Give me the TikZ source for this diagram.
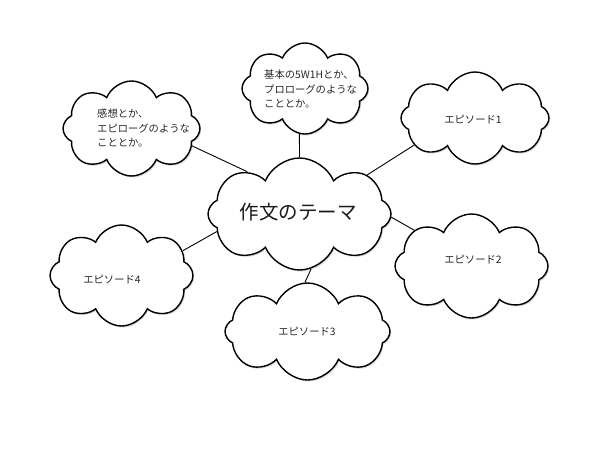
\documentclass[tikz,border=0pt]{standalone}
\usepackage{fontspec}
\setmainfont{Noto Sans CJK JP}
\usetikzlibrary{shapes.symbols,shadows}
\tikzset{
  cloudbox/.style={cloud, cloud puffs=8, cloud puff arc=135, cloud ignores aspect,
    draw=black, line width=1.4pt, fill=white, inner sep=0pt,
    drop shadow={opacity=0.3, shadow xshift=1.2pt, shadow yshift=-1.5pt}},
  smalltext/.style={font=\fontsize{10.3}{14.5}\selectfont, text=black!85, inner sep=0pt, align=left},
  link/.style={draw=black, line width=0.9pt}
}
\begin{document}
\begin{tikzpicture}[x=1pt,y=-1pt]
\useasboundingbox[fill=white] (0,0) rectangle (600,450);
\node[cloudbox, minimum width=183pt, minimum height=112pt] (c) at (299.5,214) {};
\node[cloudbox, minimum width=137pt, minimum height=95pt] (tl) at (131.5,128.5) {};
\node[cloudbox, minimum width=126pt, minimum height=91pt] (top) at (305,88.5) {};
\node[cloudbox, minimum width=148pt, minimum height=92pt] (e1) at (475,118) {};
\node[cloudbox, minimum width=153pt, minimum height=104pt] (e2) at (471.5,266) {};
\node[cloudbox, minimum width=165pt, minimum height=97pt] (e3) at (307.5,331.5) {};
\node[cloudbox, minimum width=143pt, minimum height=101pt] (e4) at (121.5,275.5) {};
\draw[link] (c.141) -- (tl.-16);
\draw[link] (c.90) -- (top.-97);
\draw[link] (c.30) -- (e1.204);
\draw[link] (c.-2) -- (e2.148);
\draw[link] (c.-78) -- (e3.93);
\draw[link] (c.192) -- (e4.22);
\node[font=\fontsize{19.5}{24}\selectfont, text=black!90, inner sep=0pt] (tc) at (298,212) {作文のテーマ};
\node[smalltext, anchor=west] (ttl) at (97,128) {感想とか、\\エピローグのような\\こととか。};
\node[smalltext, anchor=west] (ttop) at (264,89) {基本の5W1Hとか、\\プロローグのような\\こととか。};
\node[smalltext] (t1) at (473,120) {エピソード1};
\node[smalltext] (t2) at (473,260) {エピソード2};
\node[smalltext] (t3) at (307,332) {エピソード3};
\node[smalltext] (t4) at (112,280) {エピソード4};
\end{tikzpicture}
\end{document}
